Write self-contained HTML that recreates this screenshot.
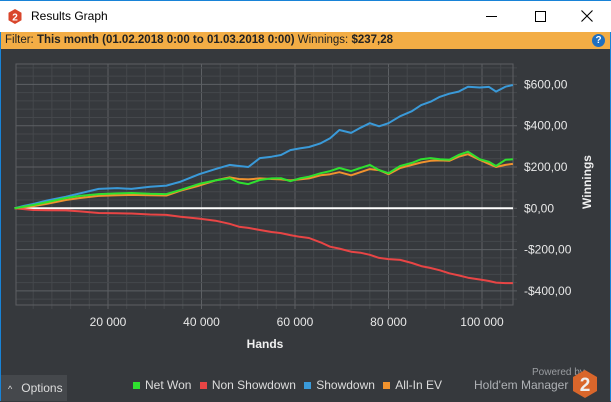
<!DOCTYPE html>
<html><head><meta charset="utf-8"><style>
body{margin:0;width:611px;height:401px;overflow:hidden;background:#36393d;font-family:"Liberation Sans",sans-serif;position:relative}
.abs{position:absolute}
</style></head><body>
<div class="abs" style="left:0;top:0;width:611px;height:32px;background:#fff;border-top:1px solid #1883d7;box-sizing:border-box">
 <svg class="abs" style="left:8px;top:8px" width="14" height="15"><polygon points="7,0 13.5,3.7 13.5,11.3 7,15 0.5,11.3 0.5,3.7" fill="#d9462b"/><text x="7" y="11.5" font-size="10" font-weight="bold" fill="#fff" text-anchor="middle" font-family="Liberation Sans">2</text></svg>
 <div class="abs" style="left:31px;top:8px;font-size:12px;color:#000">Results Graph</div>
 <div class="abs" style="left:486px;top:15px;width:11px;height:1px;background:#000"></div>
 <div class="abs" style="left:535px;top:10px;width:9px;height:9px;border:1px solid #000"></div>
 <svg class="abs" style="left:581px;top:9px" width="12" height="12"><path d="M0.5,0.5L11.5,11.5M11.5,0.5L0.5,11.5" stroke="#000" stroke-width="1.1"/></svg>
</div>
<div class="abs" style="left:0;top:32px;width:611px;height:17px;background:#f3ad45;font-size:11.5px;color:#222;line-height:17px;padding-left:5px;box-sizing:border-box">Filter: <b>This month (01.02.2018 0:00 to 01.03.2018 0:00)</b> Winnings: <b>$237,28</b></div>
<div class="abs" style="left:592px;top:34px;width:13px;height:13px;border-radius:50%;background:#1f6fc0;color:#fff;font-size:10px;font-weight:bold;text-align:center;line-height:13px">?</div>
<div class="abs" style="left:0;top:32px;width:1px;height:369px;background:#1883d7"></div>
<div class="abs" style="left:610px;top:32px;width:1px;height:369px;background:#1883d7"></div>
<svg class="abs" style="left:0;top:0" width="611" height="401" id="chart"></svg>
<div class="abs" style="left:1px;top:375px;width:66px;height:26px;background:#45484c;color:#ddd;font-size:12px;line-height:26px"><span style="margin-left:7px;font-size:9px">^</span><span style="margin-left:9px">Options</span></div>
<div class="abs" style="left:133px;top:378px;font-size:12px;color:#ddd;white-space:nowrap">
 <span><span style="display:inline-block;width:7px;height:7px;background:#2fe02f;margin-right:5px"></span>Net Won</span>
 <span style="margin-left:5px"><span style="display:inline-block;width:7px;height:7px;background:#e84545;margin-right:5px"></span>Non Showdown</span>
 <span style="margin-left:5px"><span style="display:inline-block;width:7px;height:7px;background:#3a9ad9;margin-right:5px"></span>Showdown</span>
 <span style="margin-left:5px"><span style="display:inline-block;width:7px;height:7px;background:#f0922e;margin-right:5px"></span>All-In EV</span>
</div>
<div class="abs" style="left:532px;top:367px;font-size:10px;color:#9a9da1">Powered by</div>
<div class="abs" style="left:474px;top:378px;font-size:12px;color:#aeb1b5">Hold'em Manager</div>
<svg class="abs" style="left:572px;top:370px" width="26" height="28"><polygon points="13,0 25,7 25,21 13,28 1,21 1,7" fill="#d9662b"/><text x="13" y="21" font-size="19" font-weight="bold" fill="#eee" text-anchor="middle" font-family="Liberation Sans">2</text></svg>
<script>
const hands=[0,2000,4000,7000,11000,14000,18000,22000,25000,29000,32500,35500,39500,43000,46000,48000,50000,52500,55000,57000,59000,61000,63000,65500,67500,69500,72000,74000,76000,78000,80000,82500,85000,87000,89000,91000,93000,95000,97000,99500,101500,103000,105000,106600];
const showdown=[0,12,21,38,56,72,94,98,94,104,110,129,165,190,210,205,200,243,250,258,282,290,297,315,339,379,365,390,412,397,412,446,470,500,516,540,555,565,589,585,588,565,589,597];
const netWon=[0,8,16,30,50,60,69,72,74,70,69,89,118,135,146,125,117,137,145,146,131,145,153,170,180,195,180,195,210,185,170,205,220,238,243,238,235,258,274,238,225,205,235,238];
const allInEV=[0,5,10,22,40,50,60,63,65,63,62,85,110,135,150,142,140,145,142,140,135,140,145,160,165,175,160,175,190,185,165,195,210,222,230,232,230,250,262,235,215,200,210,215];
const nonShowdown=[0,-4,-8,-9,-10,-15,-23,-24,-25,-30,-32,-41,-50,-60,-75,-89,-95,-105,-115,-120,-130,-138,-144,-165,-186,-195,-210,-215,-225,-240,-246,-250,-265,-280,-289,-300,-315,-325,-336,-345,-352,-360,-362,-362];
const xTicks=[20000,40000,60000,80000,100000];
const xTickLabels=["20 000","40 000","60 000","80 000","100 000"];
const yTicks=[600,400,200,0,-200,-400];
const yTickLabels=["$600,00","$400,00","$200,00","$0,00","-$200,00","-$400,00"];
const NS='http://www.w3.org/2000/svg';
const svg=document.getElementById('chart');
const L=16,R=513,T=64,B=305;
const X=h=>14.5+h*93.5/20000;
const Y=v=>208.3-v*41.3/200;
function mk(tag,at){const e=document.createElementNS(NS,tag);for(const k in at)e.setAttribute(k,at[k]);svg.appendChild(e);return e;}
for(let h=4000;X(h)<R;h+=4000){const e=mk('line',{x1:X(h),x2:X(h),y1:T,y2:B+4,stroke:h%20000?'#45484c':'#5d6064','stroke-width':1});

}
for(let v=-440;v<=680;v+=40){if(Y(v)<T||Y(v)>B)continue;const e=mk('line',{x1:L,x2:R+4,y1:Y(v),y2:Y(v),stroke:v%200?'#45484c':'#5d6064','stroke-width':1});

}
const fr=mk('rect',{x:L,y:T,width:R-L,height:B-T,fill:'none',stroke:'#5d6064'});


const z=mk('line',{x1:L,x2:R,y1:Y(0),y2:Y(0),stroke:'#fff','stroke-width':2});


xTicks.forEach((t,i)=>{const e=mk('text',{x:X(t),y:326,'text-anchor':'middle','font-size':12,fill:'#e8e8e8','font-family':'Liberation Sans'});e.textContent=xTickLabels[i];

});
yTicks.forEach((t,i)=>{const e=mk('text',{x:524,y:Y(t)+4,'font-size':12,fill:'#e8e8e8','font-family':'Liberation Sans'});e.textContent=yTickLabels[i];

});
const xt=mk('text',{x:265,y:348,'text-anchor':'middle','font-size':12,'font-weight':'bold',fill:'#f0f0f0','font-family':'Liberation Sans'});xt.textContent='Hands';


const yt=mk('text',{x:0,y:0,transform:'translate(591,182) rotate(-90)','text-anchor':'middle','font-size':12,'font-weight':'bold',fill:'#f0f0f0','font-family':'Liberation Sans'});yt.textContent='Winnings';


function series(vals,col,name){const p=mk('polyline',{points:vals.map((v,i)=>X(hands[i]).toFixed(1)+','+Y(v).toFixed(1)).join(' '),fill:'none',stroke:col,'stroke-width':2,'stroke-linejoin':'round'});

}
series(nonShowdown,'#e84545','non-showdown-line');
series(showdown,'#3a9ad9','showdown-line');
series(allInEV,'#f0922e','all-in-ev-line');
series(netWon,'#2fe02f','net-won-line');
</script>
</body></html>
